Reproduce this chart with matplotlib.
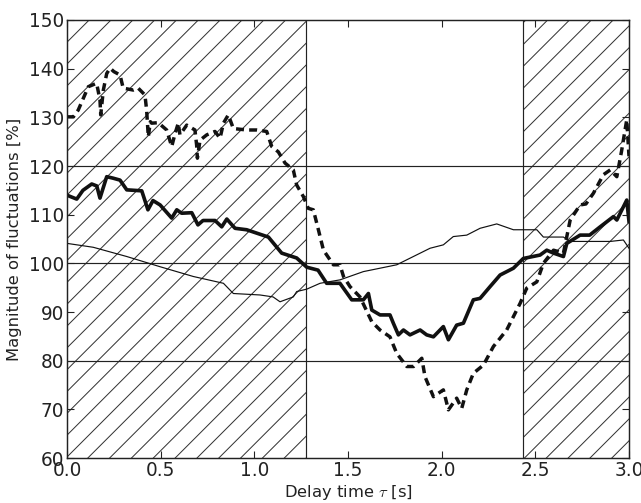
import matplotlib
matplotlib.use('Agg')
import matplotlib.pyplot as plt

# valori
x_thick = [0.0, 0.052, 0.085, 0.132, 0.159, 0.176, 0.212, 0.246, 0.283, 0.319,
           0.399, 0.432, 0.459, 0.497, 0.559, 0.586, 0.612, 0.666, 0.699, 0.726,
           0.790, 0.826, 0.853, 0.897, 0.959, 1.075, 1.146, 1.226, 1.280, 1.340,
           1.386, 1.457, 1.52, 1.582, 1.609, 1.627, 1.671, 1.724, 1.742, 1.769,
           1.796, 1.831, 1.885, 1.92, 1.956, 2.009, 2.036, 2.08, 2.116, 2.169,
           2.205, 2.258, 2.312, 2.383, 2.436, 2.525, 2.561, 2.597, 2.65, 2.668,
           2.739, 2.79, 2.846, 2.917, 2.935, 2.988, 3.0]
y_thick = [114.0, 113.2, 115.0, 116.3, 115.9, 113.4, 117.8, 117.5, 117.1, 115.1,
           114.9, 111.0, 112.9, 112.0, 109.3, 111.0, 110.3, 110.4, 107.9, 108.8,
           108.8, 107.5, 109.1, 107.2, 106.9, 105.4, 102.1, 101.1, 99.2, 98.6,
           95.9, 95.9, 92.5, 92.5, 93.8, 90.4, 89.4, 89.4, 87.7, 85.3,
           86.3, 85.3, 86.3, 85.3, 84.9, 87.0, 84.3, 87.3, 87.7, 92.5,
           92.8, 95.2, 97.6, 99.0, 101.0, 101.7, 102.7, 102.1, 101.4, 104.1,
           105.8, 105.8, 107.5, 109.6, 108.9, 113.0, 108.6]

x_thin = [0.0, 0.14, 0.319, 0.497, 0.674, 0.835, 0.888, 1.03, 1.10, 1.137,
          1.208, 1.226, 1.28, 1.351, 1.457, 1.582, 1.76, 1.849, 1.938, 2.009,
          2.062, 2.134, 2.205, 2.294, 2.383, 2.508, 2.543, 2.65, 2.686, 2.90,
          2.97, 3.0]
y_thin = [104.1, 103.3, 101.4, 99.3, 97.3, 95.9, 93.8, 93.5, 93.1, 92.1,
          93.1, 94.2, 94.7, 95.9, 96.6, 98.3, 99.7, 101.4, 103.1, 103.8,
          105.5, 105.8, 107.2, 108.1, 106.9, 106.9, 105.4, 105.4, 104.5, 104.5,
          104.8, 103.1]

x_dash = [0.0, 0.034, 0.06, 0.087, 0.114, 0.158, 0.176, 0.18, 0.194, 0.212,
          0.23, 0.25, 0.283, 0.30, 0.354, 0.38, 0.416, 0.425, 0.434, 0.445,
          0.452, 0.487, 0.532, 0.559, 0.577, 0.594, 0.603, 0.639, 0.683, 0.692,
          0.696, 0.71, 0.746, 0.79, 0.817, 0.835, 0.861, 0.888, 0.959, 1.013,
          1.066, 1.093, 1.128, 1.164, 1.208, 1.226, 1.262, 1.288, 1.315, 1.342,
          1.369, 1.422, 1.457, 1.476, 1.511, 1.564, 1.627, 1.671, 1.724, 1.76,
          1.814, 1.85, 1.894, 1.911, 1.956, 2.009, 2.036, 2.08, 2.107, 2.134,
          2.169, 2.223, 2.276, 2.347, 2.419, 2.454, 2.508, 2.543, 2.597, 2.65,
          2.686, 2.739, 2.77, 2.81, 2.863, 2.9, 2.935, 2.96, 2.988, 3.0]
y_dash = [130.1, 130.1, 131.5, 133.9, 136.3, 137.0, 133.6, 130.5, 135.6, 139.0,
          140.1, 139.4, 138.7, 136.0, 135.6, 136.0, 134.6, 131.5, 126.0, 129.1,
          128.8, 128.9, 127.4, 124.0, 126.7, 128.8, 126.4, 128.4, 127.4, 124.3,
          121.6, 125.3, 126.4, 127.1, 125.7, 128.8, 130.5, 127.7, 127.4, 127.4,
          127.1, 124.0, 122.9, 120.6, 119.2, 116.1, 113.7, 111.3, 111.0, 106.9,
          102.7, 99.7, 99.7, 97.3, 95.2, 93.1, 88.0, 86.3, 84.9, 81.5,
          78.8, 78.8, 80.5, 76.7, 72.6, 74.0, 69.9, 72.3, 70.2, 74.0,
          77.4, 79.1, 82.9, 86.3, 91.8, 94.9, 96.2, 100.0, 102.7, 102.1,
          108.9, 112.0, 112.2, 114.4, 118.2, 119.2, 117.8, 123.0, 129.5, 122.0]

# zone tratteggiate e linee di riferimento
zone = [(0.0, 1.276), (2.435, 3.0)]
linee_v = [1.276, 2.435]
linee_h = [80, 100, 120]

DPI = 131
plt.rcParams['font.family'] = 'DejaVu Sans'
plt.rcParams['mathtext.fontset'] = 'cm'
plt.rcParams['hatch.linewidth'] = 0.55

fig = plt.figure(figsize=(641 / DPI, 503 / DPI), dpi=DPI)
ax = fig.add_axes([67 / 641, 1 - 458 / 503, 562 / 641, 438 / 503])

for a, b in zone:
    ax.axvspan(a, b, facecolor='none', edgecolor='#333333', hatch='//', linewidth=0)
for v in linee_v:
    ax.axvline(v, color='#222222', lw=0.65)
for h in linee_h:
    ax.axhline(h, color='#222222', lw=0.65)

ax.plot(x_thin, y_thin, color='#111111', lw=0.65)
ax.plot(x_thick, y_thick, color='#111111', lw=2.0)
ax.plot(x_dash, y_dash, color='#111111', lw=1.9, dashes=(2.3, 1.5), dash_capstyle='butt')

ax.set_xlim(0, 3.0)
ax.set_ylim(60, 150)
ax.set_xticks([0.0, 0.5, 1.0, 1.5, 2.0, 2.5, 3.0])
ax.set_xticklabels(['0.0', '0.5', '1.0', '1.5', '2.0', '2.5', '3.0'])
ax.set_yticks(range(60, 151, 10))
ax.tick_params(direction='in', top=True, right=True, length=4, width=0.6,
               labelsize=10.2, pad=1.5, colors='#222222')
for s in ax.spines.values():
    s.set_linewidth(0.8)
    s.set_color('#222222')

ax.set_xlabel(r'Delay time $\tau$ [s]', fontsize=9, color='#222222', labelpad=2)
ax.set_ylabel('Magnitude of fluctuations [%]', fontsize=9, color='#222222', labelpad=4)

fig.savefig('out.png', dpi=DPI)
